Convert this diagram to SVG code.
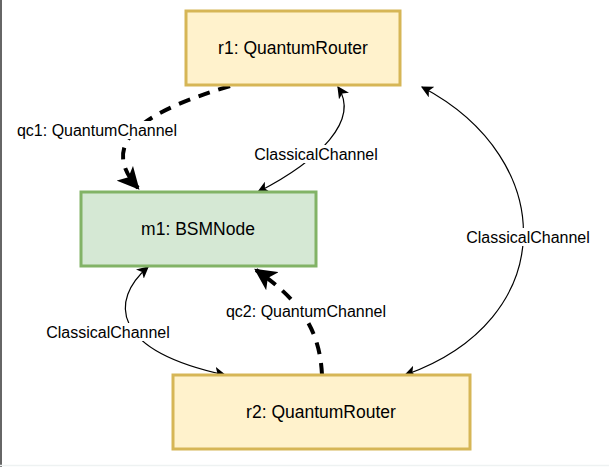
<svg xmlns="http://www.w3.org/2000/svg" width="609" height="467" viewBox="0 0 609 467">
<style>
.n text,.l{font-family:"Liberation Sans",Arial,sans-serif;font-size:17.5px;fill:#000}
.n text{text-anchor:middle;dominant-baseline:central}
.l{text-anchor:middle;dominant-baseline:central;font-size:16px}
.y{fill:#fff2cc;stroke:#d6b656;stroke-width:3}
.g{fill:#d5e8d4;stroke:#82b366;stroke-width:3}
.c{fill:none;stroke:#000;stroke-width:1.2}
.q{fill:none;stroke:#000;stroke-width:4;stroke-dasharray:12 9}
.bg{fill:#fff}
</style>
<defs>
<marker id="a" viewBox="0 0 10 10" refX="9" refY="5" markerWidth="12" markerHeight="12" markerUnits="userSpaceOnUse" orient="auto-start-reverse"><path d="M0,0 L10,5 L0,10 L2.5,5 Z"/></marker>
<marker id="b" viewBox="0 0 10 10" refX="9" refY="5" markerWidth="5.5" markerHeight="5.5" orient="auto"><path d="M0,0 L10,5 L0,10 L2.5,5 Z"/></marker>
</defs>
<rect width="609" height="467" fill="#fff"/>
<line x1="1" y1="0" x2="1" y2="467" stroke="#666" stroke-width="2"/>
<line x1="0" y1="465.5" x2="609" y2="465.5" stroke="#eef2f2" stroke-width="1.5"/>
<g id="connectors">
<path class="q" d="M230,86 C150,110 95,140 138,188" marker-end="url(#b)"/>
<path class="c" d="M338,87 C360,120 320,160 258,192" marker-start="url(#a)" marker-end="url(#a)"/>
<path class="c" d="M422,87 C560,160 560,320 405,375" marker-start="url(#a)" marker-end="url(#a)"/>
<path class="c" d="M148,267 C110,300 110,350 225,375" marker-start="url(#a)" marker-end="url(#a)"/>
<path class="q" d="M322,375 C320,330 300,300 256,270" marker-end="url(#b)"/>
<rect class="bg" x="28" y="121" width="138" height="18"/>
<text class="l" x="97" y="130">qc1: QuantumChannel</text>
<rect class="bg" x="252" y="145" width="128" height="18"/>
<text class="l" x="316" y="154">ClassicalChannel</text>
<rect class="bg" x="464" y="228" width="128" height="18"/>
<text class="l" x="528" y="237">ClassicalChannel</text>
<rect class="bg" x="44" y="323" width="128" height="18"/>
<text class="l" x="108" y="332">ClassicalChannel</text>
<rect class="bg" x="223" y="302" width="166" height="18"/>
<text class="l" x="306" y="311">qc2: QuantumChannel</text>
</g>
<g id="r1" class="n"><rect class="y" x="186" y="11" width="214" height="74"/><text x="293" y="48">r1: QuantumRouter</text></g>
<g id="m1" class="n"><rect class="g" x="81" y="192" width="235" height="74"/><text x="198" y="229">m1: BSMNode</text></g>
<g id="r2" class="n"><rect class="y" x="173" y="375" width="297" height="74"/><text x="321" y="412">r2: QuantumRouter</text></g>
</svg>
